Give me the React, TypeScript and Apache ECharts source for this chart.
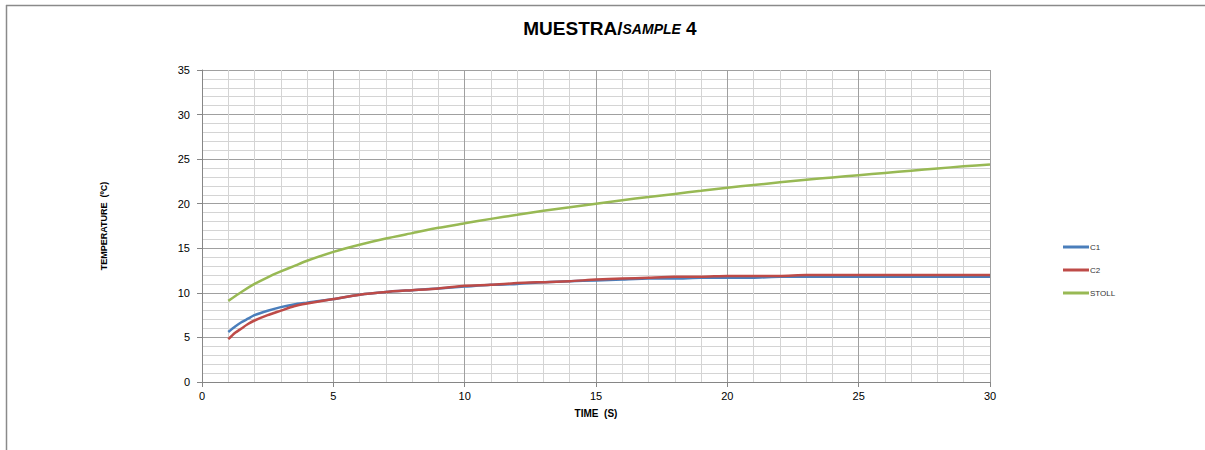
import React, { useEffect, useRef } from "react";
import * as echarts from "echarts";

const titleMain = "MUESTRA/";
const titleItalic = "SAMPLE";
const titleEnd = " 4";
const xName = "TIME  (S)";
const yName = "TEMPERATURE  (ºC)";

const c1Time = [1, 1.25, 1.5, 1.75, 2, 2.5, 3, 3.5, 4, 5, 6, 7, 8, 9, 10, 11, 12, 13, 14, 15, 16, 17, 18, 19, 20, 21, 22, 23, 24, 25, 26, 27, 28, 29, 30];
const c1Temp = [5.6, 6.2, 6.7, 7.1, 7.5, 8.0, 8.4, 8.7, 8.9, 9.3, 9.8, 10.1, 10.3, 10.5, 10.7, 10.9, 11.0, 11.2, 11.3, 11.4, 11.5, 11.6, 11.6, 11.7, 11.7, 11.7, 11.8, 11.8, 11.8, 11.8, 11.8, 11.8, 11.8, 11.8, 11.8];
const c2Temp = [4.8, 5.5, 6.0, 6.5, 6.9, 7.5, 8.0, 8.5, 8.8, 9.3, 9.8, 10.1, 10.3, 10.5, 10.8, 10.9, 11.1, 11.2, 11.3, 11.5, 11.6, 11.7, 11.8, 11.8, 11.9, 11.9, 11.9, 12.0, 12.0, 12.0, 12.0, 12.0, 12.0, 12.0, 12.0];
const stollTime = [1, 1.5, 2, 2.5, 3, 3.5, 4, 5, 6, 7, 8, 9, 10, 11, 12, 13, 14, 15, 16, 17, 18, 19, 20, 21, 22, 23, 24, 25, 26, 27, 28, 29, 30];
const stollTemp = [9.1, 10.1, 11.0, 11.75, 12.4, 13.0, 13.6, 14.6, 15.4, 16.1, 16.7, 17.3, 17.8, 18.3, 18.75, 19.2, 19.6, 20.0, 20.4, 20.75, 21.1, 21.45, 21.8, 22.1, 22.4, 22.7, 22.95, 23.2, 23.45, 23.7, 23.95, 24.2, 24.4];

const seriesNames = ["C1", "C2", "STOLL"];
const seriesColors = ["#4a7ebb", "#be4b48", "#98b954"];

const pair = (xs: number[], ys: number[]) => xs.map((x, i) => [x, ys[i]]);

export default function App() {
  const ref = useRef<HTMLDivElement>(null);
  useEffect(() => {
    document.body.style.margin = "0";
    const chart = echarts.init(ref.current!, undefined, { renderer: "svg" });
    const font = "'Liberation Sans', Arial, sans-serif";
    chart.setOption({
      animation: false,
      backgroundColor: "#ffffff",
      title: {
        text: `{a|${titleMain}}{b|${titleItalic}}{a|${titleEnd}}`,
        left: 605,
        textAlign: "center",
        top: 14,
        textStyle: {
          rich: {
            a: { fontFamily: font, fontWeight: "bold", fontSize: 19, color: "#000" },
            b: { fontFamily: font, fontWeight: "bold", fontStyle: "italic", fontSize: 14, color: "#000" },
          },
        },
      },
      graphic: [
        { type: "line", shape: { x1: 6, y1: 5.5, x2: 1205, y2: 5.5 }, style: { stroke: "#8a8a8a", lineWidth: 1.5 } },
        { type: "line", shape: { x1: 6.5, y1: 5, x2: 6.5, y2: 450 }, style: { stroke: "#8a8a8a", lineWidth: 1.5 } },
      ],
      legend: {
        orient: "vertical",
        left: 1058,
        top: 238,
        itemGap: 15,
        itemWidth: 26,
        itemHeight: 3,
        icon: "rect",
        textStyle: { fontFamily: font, fontSize: 8, color: "#333", padding: [0, 0, 0, -4] },
        data: seriesNames,
      },
      grid: { left: 202, right: 215, top: 70, bottom: 68, containLabel: false },
      xAxis: {
        type: "value",
        min: 0,
        max: 30,
        interval: 5,
        name: xName,
        nameLocation: "middle",
        nameGap: 26,
        nameTextStyle: { fontFamily: font, fontSize: 10, fontWeight: "bold", color: "#000" },
        axisLine: { lineStyle: { color: "#868686" } },
        axisTick: { show: true, length: 5, lineStyle: { color: "#868686" } },
        axisLabel: { fontFamily: font, fontSize: 11, color: "#000", margin: 8 },
        splitLine: { show: true, lineStyle: { color: "#a0a0a0" } },
        minorTick: { show: false, splitNumber: 5 },
        minorSplitLine: { show: true, lineStyle: { color: "#d4d4d4" } },
      },
      yAxis: {
        type: "value",
        min: 0,
        max: 35,
        interval: 5,
        name: yName,
        nameLocation: "middle",
        nameGap: 94,
        nameTextStyle: { fontFamily: font, fontSize: 9, fontWeight: "bold", color: "#000" },
        axisLine: { show: true, lineStyle: { color: "#868686" } },
        axisTick: { show: true, length: 5, lineStyle: { color: "#868686" } },
        axisLabel: { fontFamily: font, fontSize: 11, color: "#000", margin: 12 },
        splitLine: { show: true, lineStyle: { color: "#a0a0a0" } },
        minorTick: { show: false, splitNumber: 5 },
        minorSplitLine: { show: true, lineStyle: { color: "#d4d4d4" } },
      },
      series: [
        { name: seriesNames[0], type: "line", showSymbol: false, smooth: 0.2, data: pair(c1Time, c1Temp), lineStyle: { width: 2.5, color: seriesColors[0] }, itemStyle: { color: seriesColors[0] }, z: 3 },
        { name: seriesNames[1], type: "line", showSymbol: false, smooth: 0.2, data: pair(c1Time, c2Temp), lineStyle: { width: 2.5, color: seriesColors[1] }, itemStyle: { color: seriesColors[1] }, z: 4 },
        { name: seriesNames[2], type: "line", showSymbol: false, smooth: 0.2, data: pair(stollTime, stollTemp), lineStyle: { width: 2.5, color: seriesColors[2] }, itemStyle: { color: seriesColors[2] }, z: 5 },
      ],
    });
    return () => chart.dispose();
  }, []);
  return <div ref={ref} style={{ width: 1205, height: 450 }} />;
}
